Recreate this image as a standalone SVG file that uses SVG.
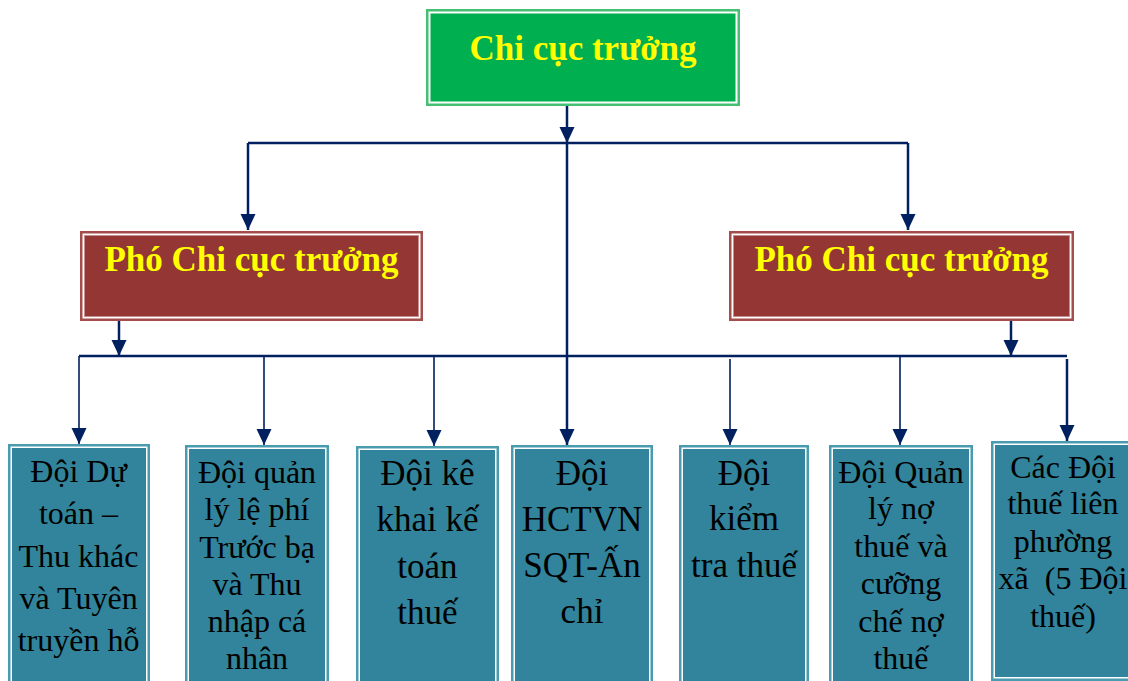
<svg xmlns="http://www.w3.org/2000/svg" width="1128" height="681" viewBox="0 0 1128 681">
<style>
.t{font-family:"Liberation Serif","Times New Roman",serif;text-anchor:middle}
.h{font-weight:bold;fill:#ffff00;font-size:35px}
.b{fill:#000;font-size:32px}
.bl{fill:#000;font-size:35px}
.gap{fill:#ffffff}
.c{stroke:#002060;stroke-width:2.5;fill:none}
.cn{stroke:#002060;stroke-width:1.6;fill:none}
</style>
<defs>
<marker id="ah" markerUnits="userSpaceOnUse" markerWidth="16" markerHeight="16" viewBox="0 0 16 16" refX="16" refY="8" orient="auto">
<path d="M0,0.5 L16,8 L0,15.5 Z" fill="#002060"/>
</marker>
</defs>
<rect width="1128" height="681" fill="#ffffff"/>

<g id="connectors">
<path class="c" d="M567,106 V143" marker-end="url(#ah)"/>
<path class="c" d="M567,143 V445" marker-end="url(#ah)"/>
<path class="c" d="M248,143 H908"/>
<path class="c" d="M248,143 V230" marker-end="url(#ah)"/>
<path class="c" d="M908,143 V230" marker-end="url(#ah)"/>
<path class="c" d="M119,321 V356" marker-end="url(#ah)"/>
<path class="c" d="M1011,321 V356" marker-end="url(#ah)"/>
<path class="c" d="M79,356 H1067"/>
<path class="cn" d="M79,356 V444" stroke="#2a4a80" marker-end="url(#ah)"/>
<path class="cn" d="M264,356 V445" marker-end="url(#ah)"/>
<path class="cn" d="M434,356 V446" marker-end="url(#ah)"/>
<path class="cn" d="M730,359 V445" marker-end="url(#ah)"/>
<path class="cn" d="M900,356 V445" marker-end="url(#ah)"/>
<path class="c" d="M1067,359 V441" marker-end="url(#ah)"/>
</g>

<g id="chi-cuc-truong">
<rect x="426" y="9" width="314" height="97" fill="#45bf72"/>
<rect x="428.5" y="11.5" width="309" height="92" class="gap"/>
<rect x="430.5" y="13.5" width="305" height="88" fill="#00b050"/>
<text class="t h" x="583" y="60">Chi cục trưởng</text>
</g>

<g id="pho-chi-cuc-truong-1">
<rect x="80" y="231" width="343" height="90" fill="#a54d4b"/>
<rect x="82.5" y="233.5" width="338" height="85" class="gap"/>
<rect x="84" y="235" width="335" height="82" fill="#c68e8c"/>
<rect x="85" y="236" width="333" height="80" fill="#943634"/>
<text class="t h" x="251.5" y="271">Phó Chi cục trưởng</text>
</g>

<g id="pho-chi-cuc-truong-2">
<rect x="729" y="231" width="345" height="90" fill="#a54d4b"/>
<rect x="731.5" y="233.5" width="340" height="85" class="gap"/>
<rect x="733" y="235" width="337" height="82" fill="#c68e8c"/>
<rect x="734" y="236" width="335" height="80" fill="#943634"/>
<text class="t h" x="901.5" y="271">Phó Chi cục trưởng</text>
</g>

<g id="doi-du-toan">
<rect x="8" y="444" width="142" height="250" fill="#4b9bb0"/>
<rect x="10.5" y="446.5" width="137" height="245" class="gap"/>
<rect x="12" y="448" width="134" height="242" fill="#31849b"/>
<text class="t b" x="78.5"><tspan x="78.5" y="482">Đội Dự</tspan><tspan x="78.5" y="524">toán –</tspan><tspan x="78.5" y="566.5">Thu khác</tspan><tspan x="78.5" y="609">và Tuyên</tspan><tspan x="78.5" y="651">truyền hỗ</tspan></text>
</g>

<g id="doi-quan-ly-le-phi">
<rect x="185" y="445" width="144" height="250" fill="#4b9bb0"/>
<rect x="187.5" y="447.5" width="139" height="245" class="gap"/>
<rect x="189" y="449" width="136" height="242" fill="#31849b"/>
<text class="t b" x="257"><tspan x="257" y="483">Đội quản</tspan><tspan x="257" y="520">lý lệ phí</tspan><tspan x="257" y="558">Trước bạ</tspan><tspan x="257" y="595">và Thu</tspan><tspan x="257" y="632">nhập cá</tspan><tspan x="257" y="669">nhân</tspan></text>
</g>

<g id="doi-ke-khai">
<rect x="356" y="446" width="143" height="250" fill="#4b9bb0"/>
<rect x="358.5" y="448.5" width="138" height="245" class="gap"/>
<rect x="360" y="450" width="135" height="242" fill="#31849b"/>
<text class="t bl" x="427.5"><tspan x="427.5" y="485">Đội kê</tspan><tspan x="427.5" y="531">khai kế</tspan><tspan x="427.5" y="578">toán</tspan><tspan x="427.5" y="624">thuế</tspan></text>
</g>

<g id="doi-hctvn">
<rect x="511" y="445" width="142" height="250" fill="#4b9bb0"/>
<rect x="513.5" y="447.5" width="137" height="245" class="gap"/>
<rect x="515" y="449" width="134" height="242" fill="#31849b"/>
<text class="t bl" x="582"><tspan x="582" y="485">Đội</tspan><tspan x="582" y="531">HCTVN</tspan><tspan x="582" y="577">SQT-Ấn</tspan><tspan x="582" y="623">chỉ</tspan></text>
</g>

<g id="doi-kiem-tra">
<rect x="679" y="445" width="130" height="250" fill="#4b9bb0"/>
<rect x="681.5" y="447.5" width="125" height="245" class="gap"/>
<rect x="683" y="449" width="122" height="242" fill="#31849b"/>
<text class="t bl" x="744"><tspan x="744" y="485">Đội</tspan><tspan x="744" y="530">kiểm</tspan><tspan x="744" y="577">tra thuế</tspan></text>
</g>

<g id="doi-quan-ly-no">
<rect x="829" y="445" width="144" height="250" fill="#4b9bb0"/>
<rect x="831.5" y="447.5" width="139" height="245" class="gap"/>
<rect x="833" y="449" width="136" height="242" fill="#31849b"/>
<text class="t b" x="901"><tspan x="901" y="483">Đội Quản</tspan><tspan x="901" y="519">lý nợ</tspan><tspan x="901" y="557">thuế và</tspan><tspan x="901" y="594">cưỡng</tspan><tspan x="901" y="632">chế nợ</tspan><tspan x="901" y="669">thuế</tspan></text>
</g>

<g id="cac-doi-thue">
<rect x="991" y="441" width="145" height="240" fill="#4b9bb0"/>
<rect x="993.5" y="443.5" width="140" height="235" class="gap"/>
<rect x="995" y="445" width="137" height="232" fill="#31849b"/>
<text class="t b" x="1063" style="white-space:pre"><tspan x="1063" y="478">Các Đội</tspan><tspan x="1063" y="514">thuế liên</tspan><tspan x="1063" y="552">phường</tspan><tspan x="1063" y="589">xã  (5 Đội</tspan><tspan x="1063" y="627">thuế)</tspan></text>
</g>
</svg>
